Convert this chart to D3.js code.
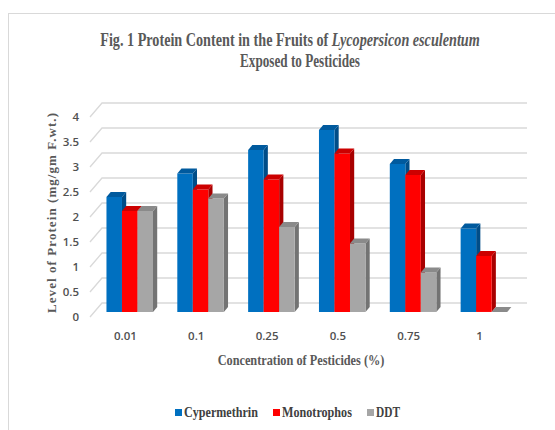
<html>
<script src="https://cdn.jsdelivr.net/npm/d3@7"></script>
<body style="margin:0;background:#fff">
<style>
  body { font-family: "Open Sans", sans-serif; }
  .tick { font: 600 11.5px "Open Sans", sans-serif; fill: #505050; }
  .serif { font-family: "Liberation Serif", "Times New Roman", serif; font-weight: bold; fill: #595959; }
</style>
<svg width="555" height="430"></svg>
<script>
var categories = ["0.01", "0.1", "0.25", "0.5", "0.75", "1"];
var seriesNames = ["Cypermethrin", "Monotrophos", "DDT"];
var cypermethrin = [2.30, 2.77, 3.24, 3.64, 2.96, 1.67];
var monotrophos = [2.02, 2.45, 2.65, 3.17, 2.74, 1.12];
var ddt = [2.02, 2.27, 1.70, 1.37, 0.79, 0];
var yTicks = [0, 0.5, 1, 1.5, 2, 2.5, 3, 3.5, 4];

var values = [cypermethrin, monotrophos, ddt];
var faces = [
  {front: "#0070c0", top: "#005a9e", side: "#004d88"},
  {front: "#ff0000", top: "#cc0000", side: "#a80000"},
  {front: "#a6a6a6", top: "#8a8a8a", side: "#737373"}
];

var svg = d3.select("svg");

// chart border
svg.append("rect").attr("x", 8.5).attr("y", 13.5).attr("width", 600).attr("height", 500)
  .style("fill", "none").style("stroke", "#d9d9d9");

var x = d3.scaleBand().domain(categories).range([102, 527]).paddingInner(0.343).paddingOuter(0.1715);
var xs = d3.scaleBand().domain(seriesNames).range([0, x.bandwidth()]);
var y = d3.scaleLinear().domain([0, 4]).range([303, 103]);

// depth: 0 = back wall, 1 = front plane
var dx = -12, dy = 14;
function p(xb, v, z) { return [xb + dx * z, y(v) + dy * z]; }
function poly(pts) { return pts.map(function(d) { return d.join(","); }).join(" "); }

// gridlines
yTicks.forEach(function(t) {
  svg.append("polyline")
    .attr("points", poly([p(102, t, 1), p(102, t, 0), p(527, t, 0)]))
    .style("fill", "none").style("stroke", "#d9d9d9").style("stroke-width", 1.3);
  svg.append("text").attr("class", "tick")
    .attr("x", 79).attr("y", p(0, t, 1)[1]).attr("dy", "0.35em")
    .attr("text-anchor", "end")
    .text(t);
});

// bars
var zf = 0.64, zb = 0.29;
categories.forEach(function(c, i) {
  seriesNames.forEach(function(s, j) {
    var v = values[j][i];
    var x0 = x(c) + xs(s), x1 = x0 + xs.bandwidth();
    var g = svg.append("g");
    g.append("polygon").attr("points", poly([p(x1, 0, zf), p(x1, 0, zb), p(x1, v, zb), p(x1, v, zf)]))
      .style("fill", faces[j].side);
    g.append("polygon").attr("points", poly([p(x0, 0, zf), p(x1, 0, zf), p(x1, v, zf), p(x0, v, zf)]))
      .style("fill", faces[j].front);
    g.append("polygon").attr("points", poly([p(x0, v, zf), p(x1, v, zf), p(x1, v, zb), p(x0, v, zb)]))
      .style("fill", faces[j].top);
  });
  svg.append("text").attr("class", "tick")
    .attr("x", x(c) + x.bandwidth() / 2 + dx).attr("y", 340)
    .attr("text-anchor", "middle").text(c);
});

// squeeze a text horizontally to a given width, keeping it centred on cx
function squeeze(sel, cx, cy, w) {
  var n = sel.node().getComputedTextLength();
  sel.attr("transform", "translate(" + cx + "," + cy + ") scale(" + (w / n) + ",1)");
}

// titles
var t1 = svg.append("text").attr("class", "serif")
  .attr("text-anchor", "middle").style("font-size", "18px");
t1.append("tspan").text("Fig. 1 Protein Content in the Fruits of ");
t1.append("tspan").style("font-style", "italic").text("Lycopersicon esculentum");
squeeze(t1, 290, 46, 380);

var t2 = svg.append("text").attr("class", "serif")
  .attr("text-anchor", "middle").style("font-size", "18px")
  .text("Exposed to Pesticides");
squeeze(t2, 300, 67, 120);

svg.append("text").attr("class", "serif")
  .attr("transform", "translate(56,213) rotate(-90)")
  .attr("text-anchor", "middle").style("font-size", "13px")
  .attr("textLength", 200).attr("lengthAdjust", "spacing")
  .text("Level of Protein (mg/gm F.wt.)");

var xt = svg.append("text").attr("class", "serif")
  .attr("text-anchor", "middle").style("font-size", "14px")
  .text("Concentration of Pesticides (%)");
squeeze(xt, 301, 365, 167);

// legend
var legX = [175, 273, 367];
var legW = [74, 70, 24];
seriesNames.forEach(function(s, j) {
  svg.append("rect").attr("x", legX[j]).attr("y", 409).attr("width", 7).attr("height", 7)
    .style("fill", faces[j].front);
  var lt = svg.append("text").attr("class", "serif")
    .style("font-size", "14px").style("fill", "#404040")
    .text(s);
  var n = lt.node().getComputedTextLength();
  lt.attr("transform", "translate(" + (legX[j] + 9) + ",417) scale(" + (legW[j] / n) + ",1)");
});
</script>
</body>
</html>
